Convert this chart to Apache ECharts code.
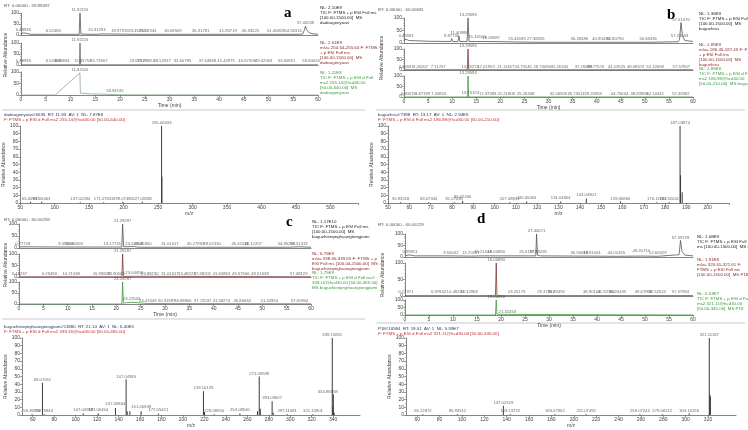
<!DOCTYPE html>
<html><head><meta charset="utf-8">
<script src="https://cdn.jsdelivr.net/npm/echarts@6/dist/echarts.min.js"></script>
<style>html,body{margin:0;padding:0;background:#fff}#c{width:748px;height:430px}</style>
</head><body><div id="c"></div>
<script>
// ---------- Panel a : chromatograms (time min, relative abundance %) ----------
const aT1 = [[0,4],[0.3,8],[0.49,10],[0.8,4],[2,3],[6.3,3],[6.52,6],[6.8,3],[11.75,3],[11.92,100],[12.1,4],[15.1,3],[15.31,9],[15.5,3],[16.2,5],[16.5,3],[19.98,4],[23.46,3],[25.58,3],[30.69,3],[36.32,3],[41.84,3],[46.33,3],[51.47,3],[54.96,3],[56.9,4],[57.2,20],[57.47,40],[57.7,25],[58.2,10],[59,5],[60,4]];
const aT2 = [[0,1],[11.8,1],[11.92,100],[12.05,1],[60,1]];
const aT3 = [[0,0],[6.9,0],[11.9,96],[12.0,8],[14,5],[18.95,2],[19.6,1],[60,0]];
const aL1 = [[0.48935,10],[6.52484,6],[11.92115,100],[15.31293,9],[19.97919,5],[23.45722,4],[25.58343,4],[30.68569,4],[36.31781,4],[41.83719,4],[46.33225,4],[51.46818,4],[54.96316,4],[57.46538,40]];
const aL2 = [[0.48935,3],[6.52484,3],[8.28834,3],[11.92115,100],[12.45753,3],[15.73307,3],[23.67177,3],[25.24824,3],[28.52917,3],[32.60795,3],[37.64868,3],[41.42875,3],[45.67308,3],[49.02063,3],[53.65851,3],[58.60024,3]];
const aL3 = [[11.92115,96],[18.94745,3]];
// Panel a : MS2 spectrum (m/z, relative abundance %)
const aMS = [[65.00937,1.5],[81.05463,1.5],[137.02284,1],[171.07653,1],[199.0748,1.5],[227.06982,1.5],[255.06433,100],[255.5,34]];
const aMSL = [[65.00937,2],[81.05463,2],[137.02284,2],[171.07653,2],[199.0748,2],[227.06982,2],[255.06433,100]];

// ---------- Panel b ----------
const bT1 = [[0,12],[0.46,15],[1,10],[5,7],[9.7,6],[9.88,18],[10.1,6],[11.2,6],[11.41,27],[11.6,6],[13.1,6],[13.3,100],[13.5,6],[15,6],[15.16,12],[15.4,6],[17.9,6],[18.09,10],[18.3,6],[23.46,4],[27.37,3],[36.39,3],[40.9,3],[43.81,3],[50.68,3],[56.9,5],[57.21,15],[57.51,82],[57.8,30],[58.3,10],[60,6]];
const bT2 = [[0,1],[13.15,1],[13.3,100],[13.45,1],[60,1]];
const bT3 = [[0,0],[13.2,0],[13.3,100],[13.4,2],[13.75,2],[14,0],[60,0]];
const bL1 = [[0.45591,15],[9.87736,18],[11.40985,27],[13.29596,100],[15.16105,12],[18.09087,10],[23.46185,5],[27.36826,4],[36.39486,4],[40.90476,4],[43.80796,4],[50.68436,4],[57.21003,15],[57.5107,82]];
const bL2 = [[0.45591,2],[3.45207,2],[7.11767,2],[13.29596,100],[13.73274,2],[17.01953,2],[21.11467,2],[24.7314,2],[28.7009,2],[32.2634,2],[37.26689,2],[39.77576,2],[44.13525,2],[48.09574,2],[52.12658,2],[57.57907,2]];
const bL3 = [[0.90076,2],[3.87199,2],[7.20816,2],[13.29593,100],[13.75123,4],[17.37583,2],[21.21808,2],[25.26458,2],[32.06505,2],[35.73011,2],[39.25953,2],[44.75604,2],[48.83996,2],[52.14442,2],[57.49582,2]];
const bMS = [[55.93518,1],[69.07345,1],[81.0703,1],[85.02206,3],[107.08839,1],[115.05455,2],[131.04904,2],[143.04901,6],[159.06866,2],[176.11742,1],[181.92041,1],[187.03874,100],[187.25,36],[188.04,14]];
const bMSL = [[55.93518,2],[69.07345,2],[81.0703,2],[85.02206,4],[107.08839,2],[115.05455,3],[131.04904,3],[143.04901,6],[159.06866,2],[176.11742,2],[181.92041,2],[187.03874,100]];

// ---------- Panel c ----------
const cT1 = [[0,4],[0.78,5],[9.6,4],[11.37,4],[19.18,4],[21.12,4],[21.29,100],[21.5,5],[23.64,6],[24.2,4],[25.46,3],[31.01,3],[36.28,3],[39.67,3],[45.42,3],[48.12,3],[54.95,3],[57.51,5],[60,3]];
const cT2 = [[0,1],[21.15,1],[21.29,100],[21.45,2],[23.64,3],[24,1],[60,1]];
const cT3 = [[0,0],[21.15,0],[21.29,100],[21.45,4],[23.13,8],[23.5,3],[26.47,2],[60,1]];
const cL1 = [[0.77718,5],[9.59836,5],[11.36569,5],[19.17741,5],[21.29287,100],[23.64458,6],[25.458,4],[31.01017,4],[36.27963,4],[39.6743,4],[45.42011,4],[48.12207,4],[54.95294,4],[57.51313,5]];
const cL2 = [[0.10267,2],[6.2549,2],[10.71538,2],[16.93823,2],[19.90603,2],[21.29287,100],[23.64458,4],[26.8823,2],[31.01017,2],[34.48221,2],[37.68201,2],[41.60863,2],[45.57566,2],[49.51638,2],[57.48129,2]];
const cL3 = [[21.29287,100],[23.12543,8],[26.47449,2],[30.31987,2],[33.68806,2],[37.72037,2],[41.58274,2],[45.86634,2],[51.42954,2],[57.61864,2]];
const cMS = [[59.36969,1],[69.07051,42],[70.7584,1],[107.04939,2],[121.06454,2],[137.05804,9],[147.04385,46],[148.05,5],[150.5,5],[161.05599,5],[177.05421,2],[219.10129,31],[220.1,4],[229.0855,1],[253.0854,2],[269.5,5],[271.09599,50],[272.1,8],[283.09607,18],[284.1,3],[297.11681,1],[321.14901,1],[339.15851,100],[339.6,11],[340.16,27],[341,3]];
const cMSL = [[59.36969,2],[70.7584,2],[69.07051,42],[107.04939,3],[121.06454,3],[137.05804,10],[147.04385,46],[161.05599,6],[177.05421,3],[219.10129,31],[229.0855,2],[253.0854,3],[271.09599,50],[283.09607,18],[297.11681,2],[321.14901,2],[334.86958,26],[339.15851,100]];

// ---------- Panel d ----------
const dT1 = [[0,6],[1,9],[2,5],[9.56,5],[13.7,4],[16.0,5],[16.21,8],[16.5,5],[18.8,5],[19.01,9],[19.3,5],[25.4,5],[25.62,8],[26,5],[27.25,5],[27.41,100],[27.6,8],[27.73,10],[28.2,5],[36.3,4],[38.91,4],[44.01,3],[49.0,4],[49.21,12],[49.6,4],[52.66,3],[57.1,10],[57.4,72],[57.7,25],[58.3,8],[60,5]];
const dT2 = [[0,1],[18.85,1],[19.01,100],[19.15,1],[60,1]];
const dT3 = [[0,0],[18.85,0],[19.01,100],[19.15,5],[21.32,4],[21.6,0],[60,0]];
const dL1 = [[0.99911,9],[9.56032,5],[13.70257,4],[16.21424,8],[19.0089,9],[25.61972,8],[27.40671,100],[27.73295,10],[36.30013,4],[38.91434,4],[44.01435,3],[49.20714,12],[52.66329,3],[57.39728,72]];
const dL2 = [[0.17971,2],[6.97842,2],[10.48252,2],[13.32968,2],[19.0089,100],[23.25175,2],[29.37267,2],[31.49455,2],[38.90164,2],[41.92762,2],[44.26435,2],[49.67905,2],[52.52624,2],[57.37863,2]];
const dL3 = [[19.0089,100],[21.32453,4]];
const dMS = [[65.12872,1],[95.93512,1],[137.02329,12],[143.13722,1],[183.07962,1],[211.07492,1],[259.07244,1],[279.06512,1],[303.10156,2],[321.11187,100],[321.6,27],[322.1,24]];
const dMSL = [[65.12872,2],[95.93512,2],[137.02329,12],[143.13722,2],[183.07962,2],[211.07492,2],[259.07244,2],[279.06512,2],[303.10156,2],[321.11187,100]];

// tick label values for the m/z axes of c and d
const cTicks = [60,80,100,120,140,160,180,200,220,240,260,280,300,320,340,360];
const dTicks = [60,80,100,120,140,160,180,200,220,240,260,280,300,320,340];

const FONT = 'Liberation Sans, Arial, sans-serif';
const grids=[], xAxes=[], yAxes=[], series=[], graphics=[];
const axCol = '#555';

function lblSeries(i, data) {
  return {type:'scatter', xAxisIndex:i, yAxisIndex:i, data, symbolSize:0.1, itemStyle:{color:'transparent'},
    label:{show:true, position:'top', distance:1, fontSize:4.2, color:'#444', fontFamily:FONT,
      formatter:p=>p.value[0].toFixed(5)}, silent:true, animation:false, z:5};
}

function chrom(box, data, labels, color, bottom) {
  const i = grids.length;
  grids.push({left:box.l, top:box.t, width:box.w, height:box.h});
  xAxes.push({type:'value', gridIndex:i, min:0, max:60, interval:5,
    axisLine:{show:true, lineStyle:{color:'#666', width:0.8}},
    axisTick:{show:bottom, length:2, lineStyle:{color:axCol, width:0.6}},
    minorTick:{show:bottom, splitNumber:5, length:1, lineStyle:{color:'#888', width:0.5}},
    axisLabel:{show:bottom, fontSize:5, color:'#444', margin:2, fontFamily:FONT},
    splitLine:{show:false},
    name: bottom ? 'Time (min)' : '', nameLocation:'middle', nameGap:8,
    nameTextStyle:{fontSize:5, color:'#444', fontFamily:FONT}});
  yAxes.push({type:'value', gridIndex:i, min:0, max:100, interval:50,
    axisLine:{show:true, lineStyle:{color:'#666', width:0.8}},
    axisTick:{show:true, length:2, lineStyle:{color:axCol, width:0.6}},
    minorTick:{show:true, splitNumber:5, length:1, lineStyle:{color:'#888', width:0.5}},
    axisLabel:{fontSize:5, color:'#444', margin:2, fontFamily:FONT}, splitLine:{show:false}});
  series.push({type:'line', xAxisIndex:i, yAxisIndex:i, data, symbol:'none',
    lineStyle:{color, width:0.8}, silent:true, animation:false});
  series.push(lblSeries(i, labels));
}

function ms(box, data, labels, xmin, xmax, xint, ticks) {
  const i = grids.length;
  grids.push({left:box.l, top:box.t, width:box.w, height:box.h});
  const xa = {type:'value', gridIndex:i, min:xmin, max:xmax,
    axisLine:{show:true, lineStyle:{color:'#666', width:0.8}},
    axisTick:{show:true, length:2, lineStyle:{color:axCol, width:0.6}},
    axisLabel:{fontSize:5, color:'#444', margin:2, fontFamily:FONT, showMaxLabel:false},
    splitLine:{show:false},
    name:'m/z', nameLocation:'middle', nameGap:8, nameTextStyle:{fontSize:5, color:'#444', fontFamily:FONT}};
  if (ticks) {
    xa.axisLabel.customValues = ticks; xa.axisTick.customValues = ticks;
  } else {
    xa.interval = xint;
    xa.minorTick = {show:true, splitNumber:5, length:1, lineStyle:{color:'#888', width:0.5}};
  }
  xAxes.push(xa);
  yAxes.push({type:'value', gridIndex:i, min:0, max:100, interval:10,
    axisLine:{show:true, lineStyle:{color:'#666', width:0.8}},
    axisTick:{show:true, length:2, lineStyle:{color:axCol, width:0.6}},
    minorTick:{show:true, splitNumber:2, length:1, lineStyle:{color:'#888', width:0.5}},
    axisLabel:{fontSize:5, color:'#444', margin:2, fontFamily:FONT}, splitLine:{show:false},
    name:'Relative Abundance', nameLocation:'middle', nameRotate:90, nameGap:13,
    nameTextStyle:{fontSize:5, color:'#444', fontFamily:FONT}});
  series.push({type:'bar', xAxisIndex:i, yAxisIndex:i, data, barWidth:1,
    itemStyle:{color:'#3a3a3a'}, silent:true, animation:false});
  series.push(lblSeries(i, labels));
}

const BLK = '#222', RED = '#8b2b2b', GRN = '#3c9a3c';
// panel a
chrom({l:21,t:13,w:297,h:22}, aT1, aL1, '#555', false);
chrom({l:21,t:43,w:297,h:22}, aT2, aL2, '#666', false);
chrom({l:21,t:72,w:297,h:23}, aT3, aL3, '#8aa88a', true);
ms({l:19,t:126,w:339,h:77}, aMS, aMSL, 50, 540, 50);
// panel b
chrom({l:404,t:18,w:289,h:25}, bT1, bL1, '#555', false);
chrom({l:404,t:49,w:289,h:21}, bT2, bL2, '#7a3a3a', false);
chrom({l:404,t:76,w:289,h:21}, bT3, bL3, GRN, true);
ms({l:388,t:126,w:341,h:77}, bMS, bMSL, 50, 210, 10);
// panel c
chrom({l:19,t:224,w:292,h:24}, cT1, cL1, '#555', false);
chrom({l:19,t:254,w:292,h:23}, cT2, cL2, '#7a3a3a', false);
chrom({l:19,t:282,w:292,h:22}, cT3, cL3, GRN, true);
ms({l:22,t:338,w:338,h:77}, cMS, cMSL, 50, 365, 20, cTicks);
// panel d
chrom({l:405,t:234,w:288,h:23}, dT1, dL1, '#555', false);
chrom({l:405,t:263,w:288,h:33}, dT2, dL2, '#7a3a3a', false);
chrom({l:405,t:300,w:288,h:15}, dT3, dL3, GRN, true);
ms({l:406,t:338,w:330,h:77}, dMS, dMSL, 50, 345, 20, dTicks);

function txt(x, y, text, fill, size) {
  const s = size || 4.4;
  graphics.push({type:'text', x, y, silent:true,
    style:{text, fill, fontSize:s, fontFamily:FONT, lineHeight:s+0.7}});
}
function vtxt(x, y, text) {
  graphics.push({type:'text', x, y, rotation:Math.PI/2, silent:true,
    style:{text, fill:'#444', fontSize:5, fontFamily:FONT, align:'center', verticalAlign:'middle'}});
}
function letter(x, y, t) {
  graphics.push({type:'text', x, y, silent:true,
    style:{text:t, fill:'#000', fontSize:15, fontWeight:'bold', fontFamily:'Liberation Serif, Times New Roman, serif'}});
}
function hline(x1, x2, y) {
  graphics.push({type:'line', silent:true, shape:{x1, y1:y, x2, y2:y}, style:{stroke:'#c8c8c8', lineWidth:1}});
}

// panel a texts
txt(4, 3, 'RT: 0.00000 - 59.99497', '#555');
letter(284, 6, 'a');
txt(320, 5, 'NL: 2.10E9\nTIC F: FTMS + p ESI Full ms\n[100.00-1500.00]  MS\ndadougenyuan', BLK);
txt(320, 40, 'NL: 2.01E9\nm/z= 254.64-255.64 F: FTMS\n+ p ESI Full ms\n[100.00-1500.00]  MS\ndadougenyuan', RED);
txt(320, 70, 'NL: 1.11E8\nTIC F: FTMS + p ESI d Full\nms2 255.14@hcd30.00\n[50.00-540.00]  MS\ndadougenyuan', GRN);
vtxt(6, 55, 'Relative Abundance');
hline(2, 365, 110);
txt(4, 112, 'dadougenyuan#6635  RT: 11.93  AV: 1  NL: 7.87E6', '#223366');
txt(4, 117, 'F: FTMS + p ESI d Full ms2 255.14@hcd30.00 [50.00-540.00]', '#c03030');

// panel b texts
txt(378, 7, 'RT: 0.00000 - 60.00691', '#555');
letter(667, 8, 'b');
txt(699, 11, 'NL: 1.36E9\nTIC F: FTMS + p ESI Full ms\n[100.00-1500.00]  MS\nbuguzhisu', BLK);
txt(699, 42, 'NL: 1.85E9\nm/z= 186.45-187.45 F: FTMS\n+ p ESI Full ms\n[100.00-1500.00]  MS\nbuguzhisu', RED);
txt(699, 66, 'NL: 2.85E8\nTIC F: FTMS + p ESI d Full\nms2 186.98@hcd30.00\n[50.00-210.00]  MS buguzhisu', GRN);
vtxt(382, 58, 'Relative Abundance');
hline(376, 745, 110);
txt(378, 112, 'buguzhisu#7398  RT: 13.17  AV: 1  NL: 2.94E5', '#223366');
txt(378, 117, 'F: FTMS + p ESI d Full ms2 186.98@hcd30.00 [50.00-210.00]', '#c03030');

// panel c texts
txt(4, 217, 'RT: 0.00000 - 60.00259', '#555');
letter(286, 215, 'c');
txt(312, 219, 'NL: 1.17E10\nTIC F: FTMS + p ESI Full ms\n[100.00-1500.00]  MS\nbuguzhierqinghuangtongjiami', BLK);
txt(312, 251, 'NL: 6.76E9\nm/z= 338.65-339.65 F: FTMS + p\nESI Full ms [100.00-1500.00]  MS\nbuguzhierqinghuangtongjiami', RED);
txt(312, 270, 'NL: 1.75E9\nTIC F: FTMS + p ESI d Full ms2\n339.16@hcd30.00 [50.00-365.00]\nMS buguzhierqinghuangtongjiami', GRN);
vtxt(6, 265, 'Relative Abundance');
hline(2, 365, 319);
txt(4, 324, 'buguzhierqinghuangtongjiami#11880  RT: 21.14  AV: 1  NL: 6.40E5', '#223366');
txt(4, 329, 'F: FTMS + p ESI d Full ms2 339.16@hcd30.00 [50.00-365.00]', '#c03030');

// panel d texts
txt(378, 222, 'RT: 0.00000 - 60.00229', '#555');
letter(477, 212, 'd');
txt(697, 234, 'NL: 1.08E9\nTIC F: FTMS + p ESI Full\nms [100.00-1500.00]  MS P18', BLK);
txt(697, 257, 'NL: 1.91E8\nm/z= 320.61-321.61 F:\nFTMS + p ESI Full ms\n[100.00-1500.00]  MS P18', RED);
txt(697, 291, 'NL: 6.63E7\nTIC F: FTMS + p ESI d Full\nms2 321.11@hcd30.00\n[50.00-345.00]  MS P18', GRN);
vtxt(383, 275, 'Relative Abundance');
hline(376, 745, 323);
txt(378, 326, 'P18#10584  RT: 19.01  AV: 1  NL: 5.59E7', '#223366');
txt(378, 331, 'F: FTMS + p ESI d Full ms2 321.11@hcd30.00 [50.00-345.00]', '#c03030');

const chart = echarts.init(document.getElementById('c'), null, {renderer:'canvas'});
chart.setOption({animation:false, backgroundColor:'#fff', grid:grids, xAxis:xAxes, yAxis:yAxes, series, graphic:graphics});
</script></body></html>
